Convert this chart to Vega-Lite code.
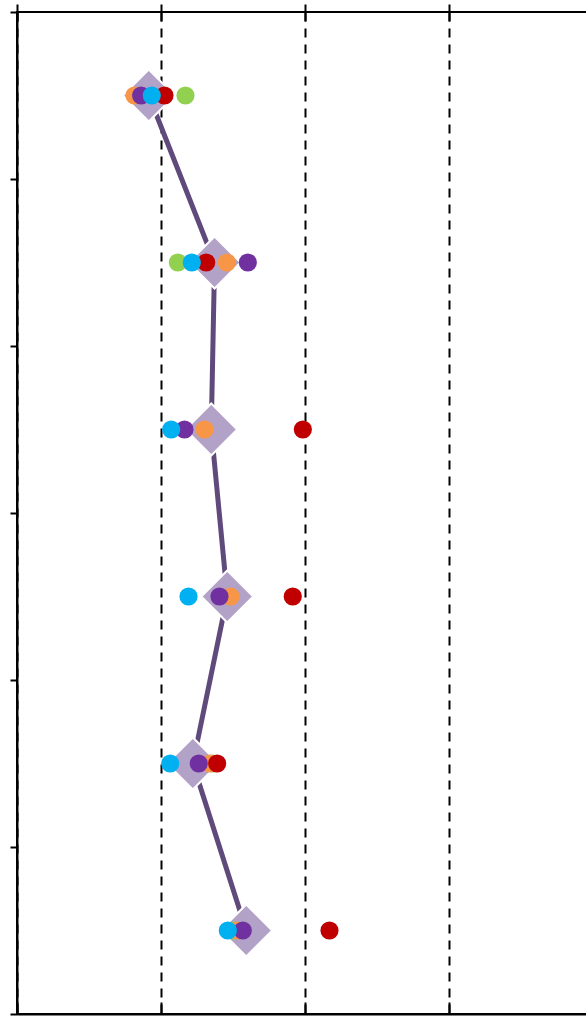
{
  "$schema": "https://vega.github.io/schema/vega-lite/v6.json",
  "width": 576,
  "height": 1002,
  "autosize": {"type": "none"},
  "padding": {"left": 17, "top": 12, "right": 0, "bottom": 2},
  "background": "white",
  "config": {"view": {"stroke": "black", "strokeWidth": 2}},
  "datasets": {
    "avg": [
      {"row": 5.5, "value": 0.915},
      {"row": 4.5, "value": 1.372},
      {"row": 3.5, "value": 1.349},
      {"row": 2.5, "value": 1.460},
      {"row": 1.5, "value": 1.221},
      {"row": 0.5, "value": 1.592}
    ],
    "pts": [
      {"row": 5.5, "series": "green", "value": 1.170},
      {"row": 4.5, "series": "green", "value": 1.117},
      {"row": 1.5, "series": "green", "value": 1.36},
      {"row": 0.5, "series": "green", "value": 1.51},
      {"row": 5.5, "series": "orange", "value": 0.816},
      {"row": 4.5, "series": "orange", "value": 1.457},
      {"row": 3.5, "series": "orange", "value": 1.302},
      {"row": 2.5, "series": "orange", "value": 1.483},
      {"row": 1.5, "series": "orange", "value": 1.34},
      {"row": 0.5, "series": "orange", "value": 1.53},
      {"row": 5.5, "series": "red", "value": 1.024},
      {"row": 4.5, "series": "red", "value": 1.314},
      {"row": 3.5, "series": "red", "value": 1.985},
      {"row": 2.5, "series": "red", "value": 1.915},
      {"row": 1.5, "series": "red", "value": 1.39},
      {"row": 0.5, "series": "red", "value": 2.17},
      {"row": 5.5, "series": "purple", "value": 0.862},
      {"row": 4.5, "series": "purple", "value": 1.603},
      {"row": 3.5, "series": "purple", "value": 1.163},
      {"row": 2.5, "series": "purple", "value": 1.406},
      {"row": 1.5, "series": "purple", "value": 1.262},
      {"row": 0.5, "series": "purple", "value": 1.568},
      {"row": 5.5, "series": "cyan", "value": 0.936},
      {"row": 4.5, "series": "cyan", "value": 1.214},
      {"row": 3.5, "series": "cyan", "value": 1.071},
      {"row": 2.5, "series": "cyan", "value": 1.191},
      {"row": 1.5, "series": "cyan", "value": 1.064},
      {"row": 0.5, "series": "cyan", "value": 1.464}
    ]
  },
  "resolve": {"axis": {"x": "independent"}},
  "layer": [
    {
      "data": {"name": "avg"},
      "mark": {"type": "line", "color": "#604a7b", "strokeWidth": 5},
      "encoding": {
        "x": {"field": "value", "type": "quantitative",
              "scale": {"domain": [0, 4], "nice": false, "zero": false},
              "axis": {"orient": "bottom", "values": [0, 1, 2, 3, 4], "labels": false, "title": null,
                       "tickSize": -12, "tickWidth": 2, "tickColor": "black",
                       "domainWidth": 2, "domainColor": "black",
                       "grid": true, "gridColor": "black", "gridWidth": 2, "gridDash": [9, 7], "gridOpacity": 1}},
        "y": {"field": "row", "type": "quantitative",
              "scale": {"domain": [0, 6], "nice": false, "zero": false},
              "axis": {"values": [0, 1, 2, 3, 4, 5, 6], "labels": false, "title": null,
                       "tickSize": 7, "tickWidth": 2, "tickColor": "black",
                       "domainWidth": 2, "domainColor": "black", "grid": false}},
        "order": {"field": "row", "sort": "descending"}
      }
    },
    {
      "data": {"name": "avg"},
      "mark": {"type": "point", "shape": "diamond", "filled": true, "size": 2700,
               "color": "#b3a2c7", "opacity": 1, "stroke": "white", "strokeWidth": 2},
      "encoding": {
        "x": {"field": "value", "type": "quantitative",
              "axis": {"orient": "top", "values": [0, 1, 2, 3, 4], "labels": false, "title": null,
                       "offset": -9, "tickSize": 17, "tickWidth": 2, "tickColor": "black",
                       "domain": false, "grid": false}},
        "y": {"field": "row", "type": "quantitative"}
      }
    },
    {
      "data": {"name": "pts"},
      "mark": {"type": "circle", "size": 330, "opacity": 1},
      "encoding": {
        "x": {"field": "value", "type": "quantitative", "axis": null},
        "y": {"field": "row", "type": "quantitative"},
        "color": {"field": "series", "type": "nominal", "legend": null,
                  "scale": {"domain": ["green", "orange", "red", "purple", "cyan"],
                            "range": ["#92d050", "#f79646", "#c00000", "#7030a0", "#00b0f0"]}}
      }
    }
  ]
}
